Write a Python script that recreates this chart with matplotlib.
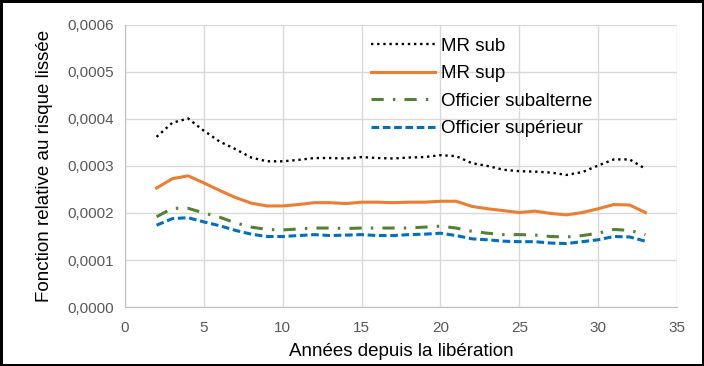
import matplotlib.pyplot as plt
from matplotlib.ticker import FuncFormatter

plt.rcParams['font.family'] = ['Liberation Sans', 'DejaVu Sans']

annees = list(range(2, 34))
mr_sub = [0.000362, 0.000392, 0.000401, 0.000375, 0.000352, 0.000336, 0.000318, 0.000310,
          0.000310, 0.000313, 0.000317, 0.000317, 0.000316, 0.000319, 0.000317, 0.000316,
          0.000318, 0.000319, 0.000323, 0.000321, 0.000306, 0.000300, 0.000292, 0.000289,
          0.000288, 0.000286, 0.000281, 0.000287, 0.000301, 0.000314, 0.000314, 0.000294]
mr_sup = [0.000253, 0.000273, 0.000279, 0.000264, 0.000248, 0.000233, 0.000221, 0.000215,
          0.000215, 0.000218, 0.000222, 0.000222, 0.000220, 0.000223, 0.000223, 0.000222,
          0.000223, 0.000223, 0.000225, 0.000225, 0.000214, 0.000209, 0.000205, 0.000201,
          0.000204, 0.000199, 0.000196, 0.000201, 0.000209, 0.000218, 0.000217, 0.000201]
off_subalterne = [0.000192, 0.000210, 0.000210, 0.000200, 0.000191, 0.000179, 0.000170, 0.000165,
                  0.000164, 0.000166, 0.000168, 0.000168, 0.000167, 0.000168, 0.000168, 0.000168,
                  0.000168, 0.000170, 0.000172, 0.000168, 0.000161, 0.000157, 0.000154, 0.000154,
                  0.000153, 0.000150, 0.000149, 0.000152, 0.000157, 0.000165, 0.000163, 0.000154]
off_superieur = [0.000174, 0.000188, 0.000190, 0.000181, 0.000173, 0.000163, 0.000155, 0.000150,
                 0.000150, 0.000152, 0.000154, 0.000152, 0.000153, 0.000154, 0.000152, 0.000152,
                 0.000154, 0.000155, 0.000157, 0.000152, 0.000145, 0.000143, 0.000140, 0.000139,
                 0.000139, 0.000136, 0.000135, 0.000139, 0.000143, 0.000150, 0.000149, 0.000140]

fig = plt.figure(figsize=(7.04, 3.66), dpi=100, linewidth=2.5, edgecolor='black')
ax = fig.add_axes([0.1776, 0.1612, 0.7840, 0.7705])

ax.plot(annees, mr_sub, color='black', lw=1.7, linestyle=(0, (1, 1.6)), label='MR sub')
ax.plot(annees, mr_sup, color='#ED7D31', lw=2.2, label='MR sup')
ax.plot(annees, off_subalterne, color='#548235', lw=2.2, linestyle=(0, (4, 3, 0.8, 3)),
        label='Officier subalterne')
ax.plot(annees, off_superieur, color='#0070C0', lw=2.2, linestyle=(0, (2.5, 1.2)),
        label='Officier supérieur')

ax.set_xlim(0, 35)
ax.set_ylim(0, 0.0006)
ax.set_xticks(range(0, 36, 5))
ax.set_yticks([i * 0.0001 for i in range(7)])
ax.yaxis.set_major_formatter(FuncFormatter(lambda v, p: f"{v:.4f}".replace('.', ',')))
ax.grid(True, color='#D9D9D9', lw=1)
ax.set_axisbelow(True)
for s in ['top', 'right']:
    ax.spines[s].set_visible(False)
for s in ['left', 'bottom']:
    ax.spines[s].set_color('#BFBFBF')
ax.tick_params(length=0, labelsize=11, labelcolor='#595959')
ax.tick_params(axis='x', pad=10)
ax.tick_params(axis='y', pad=8)

ax.set_xlabel('Années depuis la libération', fontsize=13.5, labelpad=6)
ax.set_ylabel('Fonction relative au risque lissée', fontsize=13.5, labelpad=10)

ax.legend(loc='upper left', bbox_to_anchor=(0.425, 0.995), frameon=False, fontsize=13.5,
          handlelength=3.4, handletextpad=0.35, labelspacing=0.55, borderaxespad=0.2)

fig.savefig('out.png', dpi=100)
